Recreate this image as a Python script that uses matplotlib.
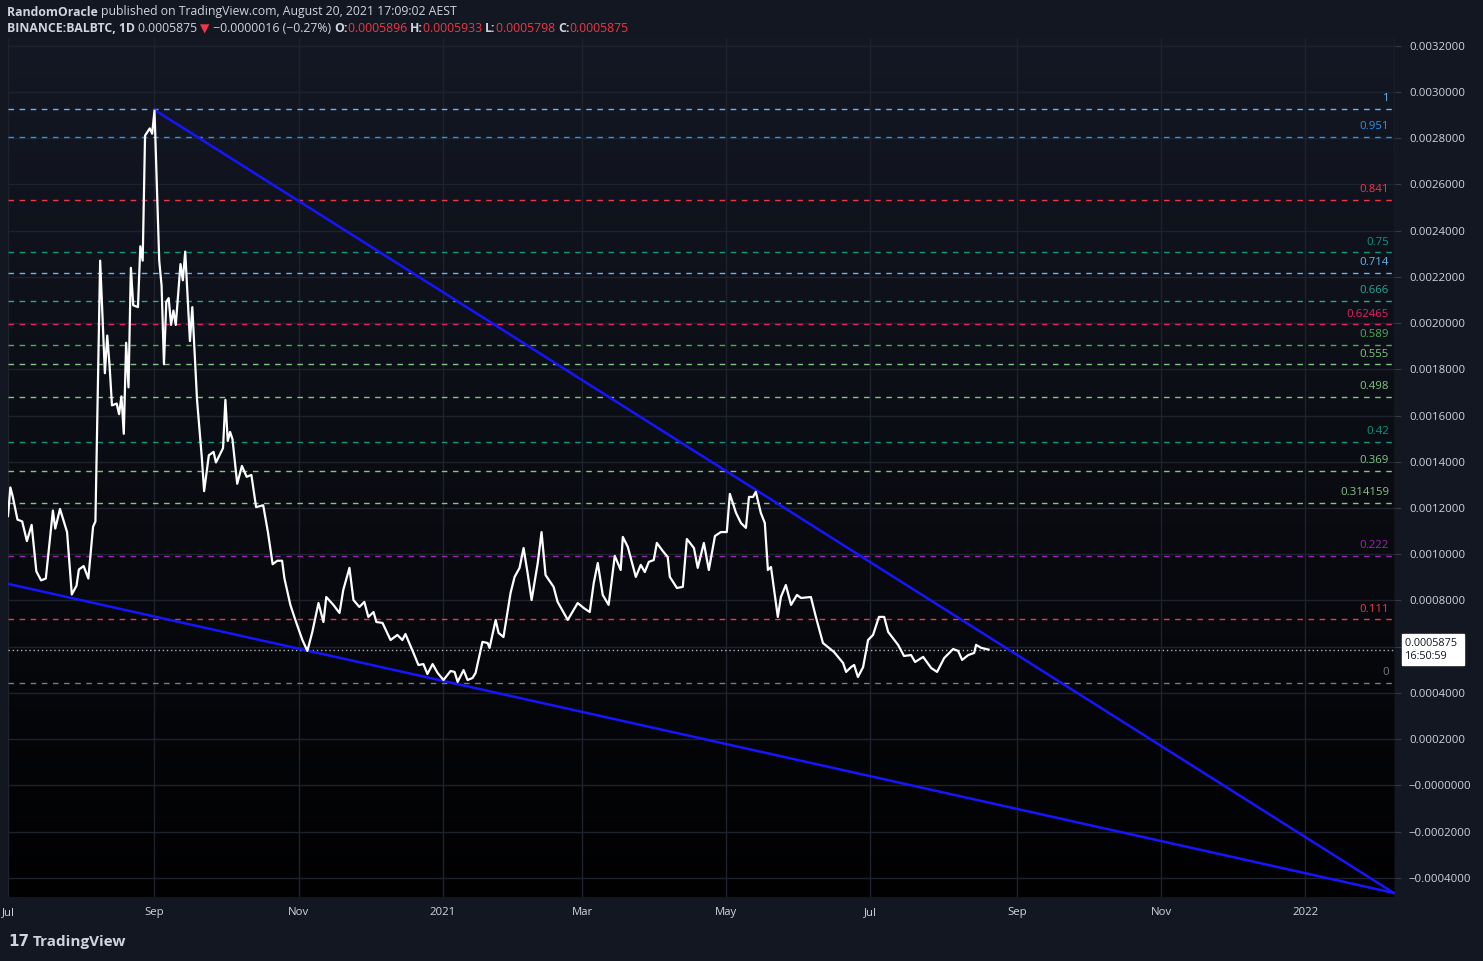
import datetime as dt
import numpy as np
import matplotlib
matplotlib.use("Agg")
import matplotlib.pyplot as plt
import matplotlib.dates as mdates
from matplotlib.colors import LinearSegmentedColormap

# ---------------- data ----------------
start_date = dt.date(2020, 7, 1)
day_offsets = [0,1,2,4,6,8,10,12,14,16,19,20,22,25,27,29,30,32,34,36,37,39,41,42,43,44,46,47,48,49,
               50,51,52,53,55,56,57,58,60,61,62,64,65,66,67,68,69,70,71,73,74,75,77,78,80,82,83,85,87,88,
               91,92,93,94,95,97,99,101,103,105,108,110,112,114,116,117,
               119.5,121.6,124.6,126.7,128.8,131.4,133.5,134.7,137.7,140.3,141.9,144.5,146.2,148.7,150.8,152.5,
               154.7,155.9,158.5,161.9,164.8,166.9,168.2,171.6,173.7,175.8,177.5,179.7,181.8,184.3,187.3,189,
               190.3,192.8,194.5,196.6,197.9,200.8,203,203.8,206.4,207.6,209.7,212.7,214.4,216.5,218.2,219.9,
               221.6,224.2,225.8,227.5,230.9,232.6,236.9,241.1,243.6,246.2,247.9,249.6,251.7,254.2,256.8,259.3,
               260.2,262.3,265.7,267.8,269.5,271.2,273.3,274.6,277.1,279.2,280.1,283.1,285.6,287.3,290.3,291.9,
               294.5,296.6,299.2,301.7,304.2,305.5,308.1,310.2,312.3,313.6,315.3,316.5,318.6,320.3,321.6,322.9,
               325.8,327.1,329.2,331.4,333.9,335.6,339.8,341.9,344.9,349.6,353.4,354.7,356.8,358.1,359.7,361.9,
               364,366.1,368.6,370.8,372.5,376.7,379.2,382.2,383.9,387.3,390.7,393.2,396.2,400,402.1,403.8,
               406.4,408.9,409.7,411.9,415]
close_e4 = [11.65,12.89,12.50,11.50,11.42,10.57,11.27,9.26,8.87,8.95,11.89,11.11,11.96,10.96,8.26,8.64,9.34,9.49,8.95,11.19,
            11.42,22.70,17.83,19.46,18.14,16.44,16.52,16.06,16.83,15.21,19.15,17.22,22.39,20.77,20.69,23.32,22.70,28.11,28.42,28.19,
            29.19,22.70,21.62,18.22,20.92,21.08,19.92,20.54,19.92,22.55,21.85,23.09,19.22,20.69,16.68,14.21,12.73,14.28,14.43,13.97,
            14.59,16.68,14.90,15.29,14.98,13.05,13.82,13.35,13.43,12.04,12.12,10.96,9.57,9.72,9.72,8.95,
            7.81,7.16,6.29,5.82,6.64,7.89,7.07,8.15,7.81,7.46,8.46,9.41,8.02,7.72,7.94,7.29,
            7.50,7.07,7.03,6.29,6.51,6.29,6.55,5.73,5.21,5.25,4.82,5.25,4.87,4.56,4.95,4.91,
            4.48,4.99,4.56,4.65,4.87,6.21,6.16,5.95,7.16,6.60,6.42,8.33,9.02,9.41,10.27,9.19,
            8.02,9.62,10.96,9.10,8.59,7.94,7.16,7.89,7.68,7.50,8.76,9.62,8.24,7.81,9.93,9.32,
            10.75,10.32,9.02,9.54,9.23,9.67,9.75,10.49,10.14,9.88,9.02,8.54,8.59,10.66,10.27,9.41,
            10.49,9.32,10.79,10.96,10.96,12.61,11.79,11.35,11.14,12.48,12.48,12.70,11.79,11.35,9.32,9.45,
            7.29,8.15,8.67,7.81,8.24,8.11,8.15,7.29,6.16,5.77,5.30,4.91,5.12,5.21,4.69,5.12,
            6.29,6.51,7.29,7.29,6.64,6.08,5.60,5.64,5.34,5.56,5.08,4.91,5.51,5.90,5.82,5.43,
            5.64,5.73,6.08,5.95,5.875]

fib_low = 0.000443
fib_high = 0.002927
fib_levels = [1, 0.951, 0.841, 0.75, 0.714, 0.666, 0.62465, 0.589, 0.555, 0.498, 0.42, 0.369, 0.314159, 0.222, 0.111, 0]
fib_labels = ["1", "0.951", "0.841", "0.75", "0.714", "0.666", "0.62465", "0.589", "0.555", "0.498", "0.42", "0.369", "0.314159", "0.222", "0.111", "0"]
fib_colors = ["#64b5f6", "#2196f3", "#f23645", "#089981", "#64b5f6", "#22ab94", "#e91e63", "#4caf50",
              "#81c784", "#81c784", "#089981", "#81c784", "#81c784", "#9c27b0", "#f23645", "#787b86"]

upper_trend_days = [62, 586.5]
upper_trend_vals = [0.002922, -0.000465]
lower_trend_days = [0, 586.5]
lower_trend_vals = [0.000872, -0.000465]

y_ticks = [-0.0004, -0.0002, 0.0, 0.0002, 0.0004, 0.0006, 0.0008, 0.0010, 0.0012, 0.0014, 0.0016, 0.0018,
           0.0020, 0.0022, 0.0024, 0.0026, 0.0028, 0.0030, 0.0032]
y_tick_labels = ["\u22120.0004000", "\u22120.0002000", "\u22120.0000000", "0.0002000", "0.0004000", "",
                 "0.0008000", "0.0010000", "0.0012000", "0.0014000", "0.0016000", "0.0018000", "0.0020000",
                 "0.0022000", "0.0024000", "0.0026000", "0.0028000", "0.0030000", "0.0032000"]
x_tick_dates = ["2020-07-01", "2020-09-01", "2020-11-01", "2021-01-01", "2021-03-01", "2021-05-01",
                "2021-07-01", "2021-09-01", "2021-11-01", "2022-01-01"]
x_tick_labels = ["Jul", "Sep", "Nov", "2021", "Mar", "May", "Jul", "Sep", "Nov", "2022"]
last_price = 0.0005875

# ---------------- figure ----------------
W, H = 1483, 961
BG = "#131722"
TXT = "#d1d4dc"
plt.rcParams["font.family"] = "Open Sans"
fig = plt.figure(figsize=(W / 100, H / 100), dpi=100, facecolor=BG)
ax = fig.add_axes([8 / W, (H - 897) / H, (1395 - 8) / W, (897 - 38) / H])

def to_num(d):
    return mdates.date2num(start_date) + np.asarray(d, dtype=float)

x0, x1 = to_num(0), to_num(587)
y0, y1 = -0.0004825, 0.003233

grad = np.linspace(0, 1, 256)[:, None]
cmap = LinearSegmentedColormap.from_list("bg", ["#141824", "#010102"])
ax.imshow(grad, extent=[x0, x1, y0, y1], origin="upper", aspect="auto", cmap=cmap, zorder=0)
ax.set_xlim(x0, x1)
ax.set_ylim(y0, y1)

for s in ax.spines.values():
    s.set_visible(False)
ax.set_yticks(y_ticks)
ax.set_xticks([mdates.date2num(dt.date.fromisoformat(d)) for d in x_tick_dates])
ax.grid(True, color="#1e222d", lw=1, zorder=1)
ax.yaxis.tick_right()
ax.set_yticklabels(y_tick_labels)
ax.set_xticklabels(x_tick_labels)
ax.tick_params(axis="y", colors=TXT, labelsize=8.2, length=4, pad=6, color="#363a45")
ax.tick_params(axis="x", colors=TXT, labelsize=8.2, length=0, pad=7)
ax.axvline(x1, color="#363a45", lw=1, zorder=5)

for lv, lab, c in zip(fib_levels, fib_labels, fib_colors):
    price = fib_low + lv * (fib_high - fib_low)
    ax.plot([x0, to_num(586)], [price, price], color=c, lw=1, ls=(0, (4, 4)), zorder=2)
    ax.text(to_num(584.5), price + 0.00002, lab, color=c, fontsize=8.2, ha="right", va="bottom", zorder=6)

ax.axhline(last_price, color="#b2b5be", lw=1, ls=(0, (1, 2)), zorder=2)

ax.plot(to_num(upper_trend_days), upper_trend_vals, color="#1515ff", lw=1.8, zorder=3)
ax.plot(to_num(lower_trend_days), lower_trend_vals, color="#1515ff", lw=1.8, zorder=3)

ax.plot(to_num(day_offsets), np.array(close_e4) * 1e-4, color="white", lw=1.6, zorder=4)

ax.text(1.0075, (last_price - y0) / (y1 - y0), "0.0005875 \n16:50:59", transform=ax.transAxes,
        fontsize=7.8, color="#131722", va="center", ha="left", linespacing=1.25,
        bbox=dict(boxstyle="square,pad=0.35", fc="white", ec="white"), zorder=10, clip_on=False)

# header
fig.canvas.draw()
r = fig.canvas.get_renderer()

def row(items, ypix):
    xpos = 7
    for s, c, w, fam in items:
        t = fig.text(xpos / W, 1 - ypix / H, s, color=c, fontsize=8.8, fontweight=w, va="center", family=fam)
        xpos += t.get_window_extent(renderer=r).width

row([("RandomOracle ", TXT, "bold", "Open Sans"),
     ("published on TradingView.com, August 20, 2021 17:09:02 AEST", TXT, "normal", "Open Sans")], 12)
row([("BINANCE:BALBTC, 1D ", TXT, "bold", "Open Sans"), ("0.0005875 ", TXT, "normal", "Open Sans"),
     ("\u25BC", "#f23645", "normal", "DejaVu Sans"),
     (" \u22120.0000016 (\u22120.27%) ", TXT, "normal", "Open Sans"), ("O:", TXT, "bold", "Open Sans"),
     ("0.0005896 ", "#f23645", "normal", "Open Sans"), ("H:", TXT, "bold", "Open Sans"),
     ("0.0005933 ", "#f23645", "normal", "Open Sans"), ("L:", TXT, "bold", "Open Sans"),
     ("0.0005798 ", "#f23645", "normal", "Open Sans"), ("C:", TXT, "bold", "Open Sans"),
     ("0.0005875", "#f23645", "normal", "Open Sans")], 29)

fig.text(8 / W, 1 - 942 / H, "17", color=TXT, fontsize=11, fontweight="bold", va="center", family="DejaVu Sans")
fig.text(33 / W, 1 - 942 / H, "TradingView", color=TXT, fontsize=11, fontweight="bold", va="center")

fig.savefig("out.png", dpi=100, facecolor=BG)
